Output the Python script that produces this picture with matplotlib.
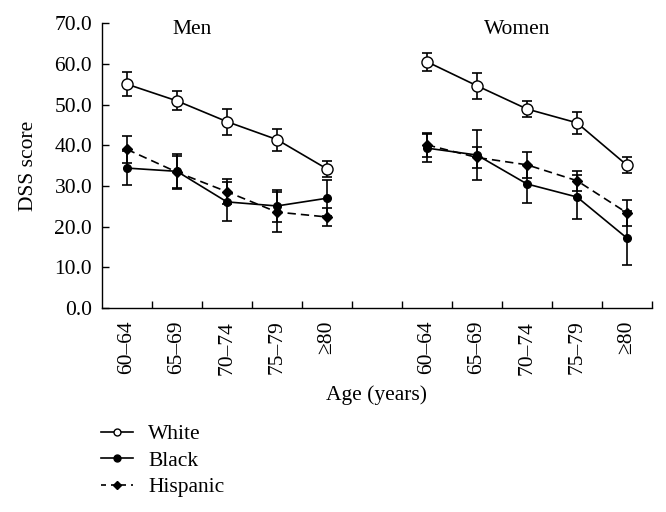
import numpy as np
import matplotlib
matplotlib.use('Agg')
import matplotlib.pyplot as plt
from matplotlib.lines import Line2D

plt.rcParams['font.family'] = ['Liberation Serif', 'DejaVu Serif']

ages = ['60\u201364', '65\u201369', '70\u201374', '75\u201379', '\u226580']

# Men
men_white = [55.0, 50.9, 45.8, 41.4, 34.2]
men_white_err = [3.0, 2.3, 3.2, 2.7, 2.0]
men_black = [34.4, 33.6, 26.1, 25.1, 27.0]
men_black_err = [4.1, 4.3, 4.8, 4.0, 4.4]
men_hisp = [39.0, 33.4, 28.6, 23.6, 22.4]
men_hisp_err = [3.3, 4.0, 3.0, 5.0, 2.3]

# Women
women_white = [60.5, 54.6, 48.9, 45.5, 35.1]
women_white_err = [2.2, 3.2, 1.9, 2.7, 2.0]
women_black = [39.3, 37.6, 30.5, 27.3, 17.2]
women_black_err = [3.5, 6.2, 4.7, 5.4, 6.6]
women_hisp = [40.1, 37.0, 35.2, 31.3, 23.4]
women_hisp_err = [3.0, 2.6, 3.2, 2.5, 3.2]

x_men = np.arange(5)
x_women = np.arange(6, 11)
fs = 15.5

fig = plt.figure(figsize=(6.66, 5.12), dpi=100)
ax = fig.add_axes([0.153, 0.398, 0.826, 0.557])

for xx, w, we, b, be, h, he in [(x_men, men_white, men_white_err, men_black, men_black_err, men_hisp, men_hisp_err),
                                 (x_women, women_white, women_white_err, women_black, women_black_err, women_hisp, women_hisp_err)]:
    ax.errorbar(xx, h, yerr=he, color='black', marker='D', ms=5, ls=(0, (5, 3)), lw=1.2,
                elinewidth=1.2, capsize=3.5, capthick=1.2)
    ax.errorbar(xx, b, yerr=be, color='black', marker='o', ms=5.5, ls='-', lw=1.2,
                elinewidth=1.2, capsize=3.5, capthick=1.2)
    ax.errorbar(xx, w, yerr=we, color='black', marker='o', mfc='white', ms=8, ls='-', lw=1.2,
                elinewidth=1.2, capsize=3.5, capthick=1.2)

ax.set_xlim(-0.5, 10.5)
ax.set_ylim(0, 70)
ax.set_yticks(np.arange(0, 71, 10))
ax.set_yticklabels(['%.1f' % v for v in np.arange(0, 71, 10)])
ax.set_xticks(np.arange(0.5, 11, 1))
ax.set_xticklabels([])
ax.set_xticks(list(x_men) + list(x_women), ages + ages, minor=True, rotation=90)
ax.tick_params(axis='x', which='minor', length=0, pad=9, labelsize=fs)
ax.tick_params(axis='both', which='major', direction='in', length=5, width=1, labelsize=fs)
ax.tick_params(axis='y', pad=7)
ax.spines['top'].set_visible(False)
ax.spines['right'].set_visible(False)
for s in ['left', 'bottom']:
    ax.spines[s].set_linewidth(1)

ax.set_ylabel('DSS score', fontsize=fs, labelpad=12)
ax.set_xlabel('Age (years)', fontsize=fs, labelpad=8)

ax.text(1.3, 68.5, 'Men', ha='center', va='center', fontsize=fs)
ax.text(7.8, 68.5, 'Women', ha='center', va='center', fontsize=fs)

handles = [
    Line2D([], [], color='black', marker='o', mfc='white', ms=5, lw=1.2),
    Line2D([], [], color='black', marker='o', ms=5, lw=1.2),
    Line2D([], [], color='black', marker='D', ms=4, lw=1.2, ls=(0, (3, 3))),
]
fig.legend(handles, ['White', 'Black', 'Hispanic'], loc='upper left',
           bbox_to_anchor=(0.122, 0.209), frameon=False, fontsize=fs,
           handlelength=1.5, handletextpad=0.7, labelspacing=0.3)

fig.savefig('out.png', dpi=100)
